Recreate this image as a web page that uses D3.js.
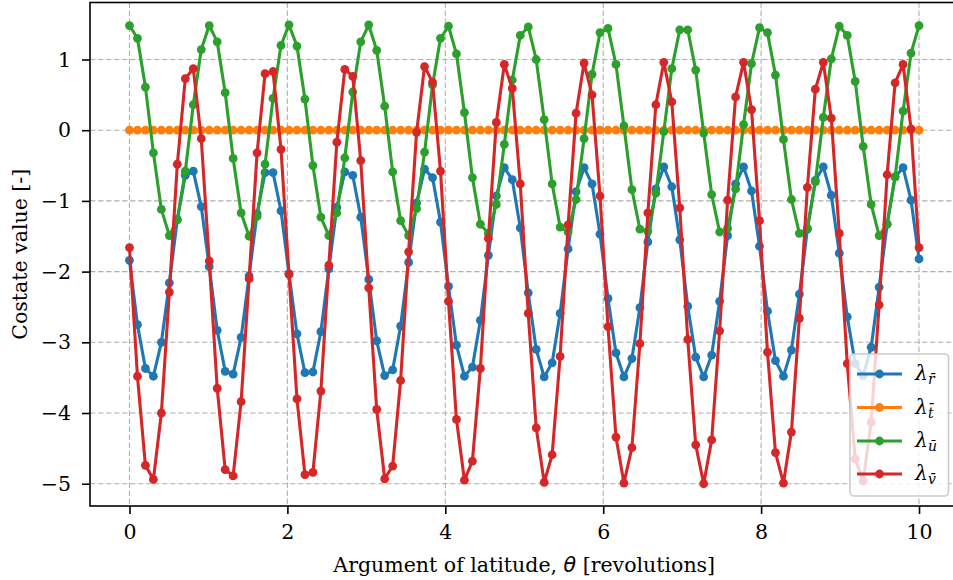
<!DOCTYPE html>
<html><head><meta charset="utf-8">
<script src="https://cdn.jsdelivr.net/npm/d3@7"></script>
<style>
body{margin:0;background:#fff}
svg{display:block}
text{font-family:"DejaVu Serif",serif}
</style></head><body><svg id="c" width="953" height="580"></svg>
<script>
// sample grid: 100 samples over 0..10 revolutions
const theta = d3.range(100).map(i => 10 * i / 99);

const lamR = [
-1.84,-2.75,-3.37,-3.48,-3.00,-2.16,-1.26,-0.64,-0.58,-1.08,
-1.93,-2.83,-3.41,-3.45,-2.93,-2.06,-1.18,-0.60,-0.60,-1.14,
-2.03,-2.88,-3.43,-3.42,-2.85,-1.96,-1.09,-0.59,-0.64,-1.23,
-2.11,-2.98,-3.47,-3.39,-2.77,-1.87,-1.03,-0.55,-0.67,-1.30,
-2.21,-3.04,-3.48,-3.35,-2.69,-1.77,-0.93,-0.53,-0.70,-1.38,
-2.30,-3.10,-3.49,-3.29,-2.59,-1.68,-0.87,-0.53,-0.76,-1.47,
-2.38,-3.15,-3.49,-3.23,-2.51,-1.58,-0.83,-0.52,-0.80,-1.55,
-2.49,-3.21,-3.49,-3.18,-2.42,-1.49,-0.76,-0.52,-0.86,-1.64,
-2.56,-3.26,-3.48,-3.11,-2.32,-1.40,-0.71,-0.52,-0.92,-1.74,
-2.64,-3.30,-3.47,-3.07,-2.22,-1.33,-0.66,-0.53,-0.99,-1.82];

const lamT = [
0,0,0,0,0,0,0,0,0,0, 0,0,0,0,0,0,0,0,0,0,
0,0,0,0,0,0,0,0,0,0, 0,0,0,0,0,0,0,0,0,0,
0,0,0,0,0,0,0,0,0,0, 0,0,0,0,0,0,0,0,0,0,
0,0,0,0,0,0,0,0,0,0, 0,0,0,0,0,0,0,0,0,0,
0,0,0,0,0,0,0,0,0,0, 0,0,0,0,0,0,0,0,0,0];

const lamU = [
1.48,1.30,0.61,-0.32,-1.12,-1.49,-1.27,-0.58,0.36,1.14,
1.48,1.25,0.53,-0.40,-1.17,-1.50,-1.22,-0.48,0.45,1.20,
1.49,1.19,0.44,-0.50,-1.23,-1.49,-1.17,-0.39,0.54,1.25,
1.49,1.13,0.34,-0.59,-1.28,-1.49,-1.11,-0.31,0.64,1.30,
1.47,1.08,0.25,-0.67,-1.33,-1.46,-1.05,-0.20,0.71,1.34,
1.46,1.00,0.15,-0.76,-1.37,-1.44,-0.98,-0.12,0.79,1.38,
1.44,0.93,0.06,-0.84,-1.40,-1.43,-0.89,-0.02,0.87,1.42,
1.42,0.85,-0.04,-0.91,-1.44,-1.39,-0.83,0.08,0.94,1.45,
1.38,0.78,-0.13,-0.98,-1.46,-1.39,-0.73,0.18,1.01,1.47,
1.34,0.69,-0.23,-1.05,-1.49,-1.33,-0.66,0.27,1.09,1.48];

const lamV = [
-1.66,-3.48,-4.74,-4.94,-4.00,-2.29,-0.48,0.73,0.87,-0.12,
-1.85,-3.65,-4.80,-4.89,-3.84,-2.10,-0.32,0.80,0.83,-0.27,
-2.04,-3.80,-4.87,-4.84,-3.69,-1.91,-0.17,0.86,0.76,-0.43,
-2.23,-3.95,-4.93,-4.75,-3.54,-1.72,-0.03,0.90,0.68,-0.58,
-2.42,-4.09,-4.95,-4.68,-3.37,-1.53,0.11,0.93,0.59,-0.76,
-2.59,-4.21,-4.98,-4.59,-3.20,-1.34,0.24,0.95,0.50,-0.93,
-2.78,-4.34,-4.99,-4.49,-3.02,-1.17,0.36,0.96,0.40,-1.10,
-2.96,-4.45,-5.00,-4.38,-2.84,-0.99,0.47,0.96,0.29,-1.28,
-3.14,-4.56,-4.99,-4.27,-2.66,-0.81,0.58,0.96,0.17,-1.46,
-3.30,-4.65,-4.96,-4.13,-2.47,-0.63,0.67,0.93,0.02,-1.66];

const xTicks = [0, 2, 4, 6, 8, 10];
const yTicks = [1, 0, -1, -2, -3, -4, -5];
const seriesSubs = ["r\u0304", "t\u0304", "u\u0304", "v\u0304"];
const seriesData = [lamR, lamT, lamU, lamV];
const colors = ["#1f77b4", "#ff7f0e", "#2ca02c", "#d62728"];
const xLabelPre = "Argument of latitude, ", xLabelSym = "\u03B8", xLabelPost = " [revolutions]";
const yLabel = "Costate value [-]";

const svg = d3.select("#c");
const L = 90, R = 958.5, T = 2.5, B = 506;
const x = d3.scaleLinear().domain([-0.5, 10.5]).range([L, R]);
const y = d3.scaleLinear().domain([-5.315, 1.806]).range([B, T]);
const FS = 20.5;

// grid
const grid = svg.append("g");
grid.selectAll("line.gx").data(xTicks).join("line")
  .attr("x1", d => x(d)).attr("x2", d => x(d)).attr("y1", T).attr("y2", B)
  .attr("stroke", "#b0b0b0").attr("stroke-width", 1.1).attr("stroke-dasharray", "5.5,2.5");
grid.selectAll("line.gy").data(yTicks).join("line")
  .attr("x1", L).attr("x2", R).attr("y1", d => y(d)).attr("y2", d => y(d))
  .attr("stroke", "#b0b0b0").attr("stroke-width", 1.1).attr("stroke-dasharray", "5.5,2.5");

// series
const line = d3.line().x((d, i) => x(theta[i])).y(d => y(d));
seriesData.forEach((arr, si) => {
  const g = svg.append("g");
  g.append("path").datum(arr).attr("d", line).attr("fill", "none")
    .attr("stroke", colors[si]).attr("stroke-width", 3.1).attr("stroke-linejoin", "round");
  g.selectAll("circle").data(arr).join("circle")
    .attr("cx", (d, i) => x(theta[i])).attr("cy", d => y(d)).attr("r", 4.4)
    .attr("fill", colors[si]);
});

// axes
const fmt = d3.format("d");
const xa = svg.append("g").attr("transform", `translate(0,${B})`)
  .call(d3.axisBottom(x).tickValues(xTicks).tickFormat(fmt).tickSize(8).tickPadding(10));
const ya = svg.append("g").attr("transform", `translate(${L},0)`)
  .call(d3.axisLeft(y).tickValues(yTicks).tickFormat(fmt).tickSize(8).tickPadding(11));
[xa, ya].forEach(a => {
  a.select(".domain").remove();
  a.selectAll(".tick line").attr("stroke", "#000").attr("stroke-width", 1.6);
  a.selectAll(".tick text").attr("font-family", "DejaVu Serif").attr("font-size", FS).attr("fill", "#000");
});
// spines
svg.append("rect").attr("x", L).attr("y", T).attr("width", R - L).attr("height", B - T)
  .attr("fill", "none").attr("stroke", "#000").attr("stroke-width", 1.6);

// axis labels
const xl = svg.append("text").attr("x", (L + R) / 2).attr("y", 572).attr("text-anchor", "middle")
  .attr("font-size", FS).attr("fill", "#000");
xl.append("tspan").text(xLabelPre);
xl.append("tspan").attr("font-family", "DejaVu Sans").attr("font-style", "italic").text(xLabelSym);
xl.append("tspan").text(xLabelPost);
svg.append("text").attr("transform", `translate(27,${(T + B) / 2}) rotate(-90)`)
  .attr("text-anchor", "middle").attr("font-size", FS).attr("fill", "#000").text(yLabel);

// legend
const lg = svg.append("g");
lg.append("rect").attr("x", 850).attr("y", 354).attr("width", 98.5).attr("height", 142).attr("rx", 4)
  .attr("fill", "#fff").attr("fill-opacity", 0.8).attr("stroke", "#cccccc").attr("stroke-width", 1.6);
const rowY = [374, 407.5, 441, 474];
seriesSubs.forEach((s, i) => {
  lg.append("line").attr("x1", 857).attr("x2", 902).attr("y1", rowY[i]).attr("y2", rowY[i])
    .attr("stroke", colors[i]).attr("stroke-width", 3.1);
  lg.append("circle").attr("cx", 879.5).attr("cy", rowY[i]).attr("r", 4.4).attr("fill", colors[i]);
  const t = lg.append("text").attr("x", 915).attr("y", rowY[i] + 6)
    .attr("font-family", "DejaVu Sans").attr("font-style", "italic").attr("font-size", FS).attr("fill", "#000");
  t.append("tspan").text("\u03BB");
  t.append("tspan").attr("font-size", 14).attr("dy", 4).text(s);
});
</script></body></html>
